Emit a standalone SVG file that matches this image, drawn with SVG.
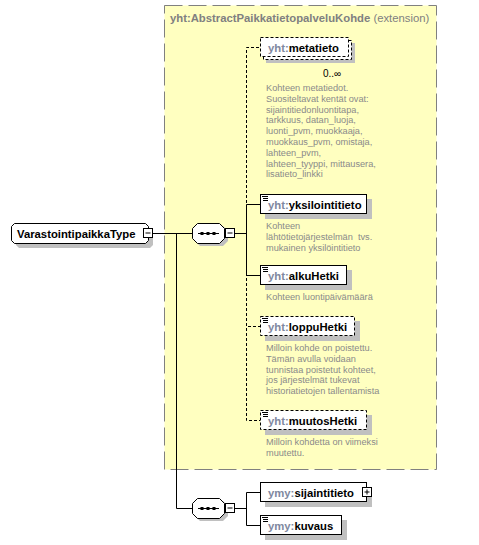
<svg xmlns="http://www.w3.org/2000/svg" width="479" height="545" viewBox="0 0 479 545">
<style>
.ext{fill:#FFFFC0;stroke:#808080;stroke-width:1;stroke-dasharray:18,6}
.sh{fill:#C0C0C0;stroke:none}
.box{fill:#FFFFFF;stroke:#000;stroke-width:1}
.dbox{fill:#FFFFFF;stroke:#000;stroke-width:1;stroke-dasharray:3,2}
.ln{fill:none;stroke:#000;stroke-width:1}
.dln{fill:none;stroke:#000;stroke-width:1;stroke-dasharray:3,2}
.nm{font-family:"Liberation Sans",Arial,sans-serif;font-size:11.3px;font-weight:bold;fill:#000}
.pfx{fill:#8088A0}
.ttl{font-family:"Liberation Sans",Arial,sans-serif;font-size:11.3px;fill:#808080}
.ds{font-family:"Liberation Sans",Arial,sans-serif;font-size:9.2px;fill:#8A8A8A}
.occ{font-family:"Liberation Sans",Arial,sans-serif;font-size:10px;fill:#000}
.ic{stroke:#000;stroke-width:1}
</style>
<rect width="479" height="545" fill="#FFFFFF"/>
<g id="extension">
<rect class="ext" x="164.5" y="5.5" width="272" height="464"/>
<text class="ttl" x="170" y="22"><tspan font-weight="bold">yht:AbstractPaikkatietopalveluKohde</tspan> (extension)</text>
</g>
<g id="connectors">
<path class="ln" d="M153,233.5 H192"/>
<path class="ln" d="M176.5,233 V508.5 H192"/>
<path class="ln" d="M235,233.5 H246.5"/>
<path class="dln" d="M246.5,233 V47.5 H260"/>
<path class="dln" d="M246.5,233 V326.5 H260"/>
<path class="dln" d="M246.5,233 V420.5 H260"/>
<path class="ln" d="M246.5,233 V204.5 H260"/>
<path class="ln" d="M246.5,233 V275.5 H260"/>
<path class="ln" d="M235,508.5 H246.5"/>
<path class="ln" d="M246.5,508 V492.5 H260"/>
<path class="ln" d="M246.5,508 V525.5 H260"/>
</g>
<g id="VarastointipaikkaType">
<path class="sh" d="M19,228 H150 L153,231 V245 L150,248 H19 L16,245 V231 Z"/>
<path class="box" d="M14.5,223.5 H145.5 L148.5,226.5 V240.5 L145.5,243.5 H14.5 L11.5,240.5 V226.5 Z"/>
<text class="nm" x="17" y="237.5">VarastointipaikkaType</text>
<rect class="box" x="143.5" y="228.5" width="9" height="9"/>
<path class="ln" d="M145.5,233 H150.5"/>
</g>
<g id="sequence1">
<path class="sh" d="M200,226 H223 L228,231 V241 L223,246 H200 L195,241 V231 Z"/>
<path class="box" d="M197.5,223.5 H219.5 L224.5,228.5 V238.5 L219.5,243.5 H197.5 L192.5,238.5 V228.5 Z"/>
<path class="ln" d="M198,233.5 H219"/>
<rect x="200.5" y="232" width="3" height="3" fill="#000"/>
<rect x="206.5" y="232" width="3" height="3" fill="#000"/>
<rect x="212.5" y="232" width="3" height="3" fill="#000"/>
<rect class="box" x="225.5" y="228.5" width="9" height="9"/>
<path class="ln" d="M227.5,233 H232.5"/>
</g>
<g id="metatieto">
<rect class="sh" x="266" y="43" width="89" height="20"/>
<rect class="dbox" x="263.5" y="40.5" width="88" height="19"/>
<rect class="dbox" x="260.5" y="37.5" width="88" height="19"/>
<text class="nm" x="268" y="51.5"><tspan class="pfx">yht:</tspan>metatieto</text>
<text class="occ" x="323" y="77">0..∞</text>
<text class="ds" x="266" y="91"><tspan x="266">Kohteen metatiedot.</tspan><tspan x="266" dy="10.8">Suositeltavat kentät ovat:</tspan><tspan x="266" dy="10.8">sijaintitiedonluontitapa,</tspan><tspan x="266" dy="10.8">tarkkuus, datan_luoja,</tspan><tspan x="266" dy="10.8">luonti_pvm, muokkaaja,</tspan><tspan x="266" dy="10.8">muokkaus_pvm, omistaja,</tspan><tspan x="266" dy="10.8">lahteen_pvm,</tspan><tspan x="266" dy="10.8">lahteen_tyyppi, mittausera,</tspan><tspan x="266" dy="10.8">lisatieto_linkki</tspan></text>
</g>
<g id="yksilointitieto">
<rect class="sh" x="265" y="199" width="107" height="20"/>
<rect class="box" x="260.5" y="194.5" width="106" height="19"/>
<path class="ic" d="M262,196.5 H268 M263,198.5 H268 M263,200.5 H268"/>
<text class="nm" x="268" y="208.5"><tspan class="pfx">yht:</tspan>yksilointitieto</text>
<text class="ds" x="266" y="229"><tspan x="266">Kohteen</tspan><tspan x="266" dy="10.8" xml:space="preserve">lähtötietojärjestelmän  tvs.</tspan><tspan x="266" dy="10.8">mukainen yksilöintitieto</tspan></text>
</g>
<g id="alkuHetki">
<rect class="sh" x="265" y="270" width="87" height="20"/>
<rect class="box" x="260.5" y="265.5" width="86" height="19"/>
<path class="ic" d="M262,267.5 H268 M263,269.5 H268 M263,271.5 H268"/>
<text class="nm" x="268" y="279.5"><tspan class="pfx">yht:</tspan>alkuHetki</text>
<text class="ds" x="266" y="300">Kohteen luontipäivämäärä</text>
</g>
<g id="loppuHetki">
<rect class="sh" x="265" y="321" width="95" height="20"/>
<rect class="dbox" x="260.5" y="316.5" width="94" height="19"/>
<path class="ic" d="M262,318.5 H268 M263,320.5 H268 M263,322.5 H268"/>
<text class="nm" x="268" y="330.5"><tspan class="pfx">yht:</tspan>loppuHetki</text>
<text class="ds" x="266" y="351"><tspan x="266">Milloin kohde on poistettu.</tspan><tspan x="266" dy="10.8">Tämän avulla voidaan</tspan><tspan x="266" dy="10.8">tunnistaa poistetut kohteet,</tspan><tspan x="266" dy="10.8">jos järjestelmät tukevat</tspan><tspan x="266" dy="10.8">historiatietojen tallentamista</tspan></text>
</g>
<g id="muutosHetki">
<rect class="sh" x="265" y="415" width="107" height="20"/>
<rect class="dbox" x="260.5" y="410.5" width="106" height="19"/>
<path class="ic" d="M262,412.5 H268 M263,414.5 H268 M263,416.5 H268"/>
<text class="nm" x="268" y="424.5"><tspan class="pfx">yht:</tspan>muutosHetki</text>
<text class="ds" x="266" y="445"><tspan x="266">Milloin kohdetta on viimeksi</tspan><tspan x="266" dy="10.8">muutettu.</tspan></text>
</g>
<g id="sequence2">
<path class="sh" d="M200,501 H223 L228,506 V516 L223,521 H200 L195,516 V506 Z"/>
<path class="box" d="M197.5,498.5 H219.5 L224.5,503.5 V513.5 L219.5,518.5 H197.5 L192.5,513.5 V503.5 Z"/>
<path class="ln" d="M198,508.5 H219"/>
<rect x="200.5" y="507" width="3" height="3" fill="#000"/>
<rect x="206.5" y="507" width="3" height="3" fill="#000"/>
<rect x="212.5" y="507" width="3" height="3" fill="#000"/>
<rect class="box" x="225.5" y="503.5" width="9" height="9"/>
<path class="ln" d="M227.5,508 H232.5"/>
</g>
<g id="sijaintitieto">
<rect class="sh" x="265" y="487" width="107" height="20"/>
<rect class="box" x="260.5" y="482.5" width="106" height="19"/>
<text class="nm" x="268" y="496.5"><tspan class="pfx">ymy:</tspan>sijaintitieto</text>
<rect class="box" x="362.5" y="487.5" width="9" height="9"/>
<path class="ln" d="M364.5,492 H369.5 M367,489.5 V494.5"/>
</g>
<g id="kuvaus">
<rect class="sh" x="265" y="520" width="82" height="20"/>
<rect class="box" x="260.5" y="515.5" width="81" height="19"/>
<path class="ic" d="M262,517.5 H268 M263,519.5 H268 M263,521.5 H268"/>
<text class="nm" x="268" y="529.5"><tspan class="pfx">ymy:</tspan>kuvaus</text>
</g>
</svg>
